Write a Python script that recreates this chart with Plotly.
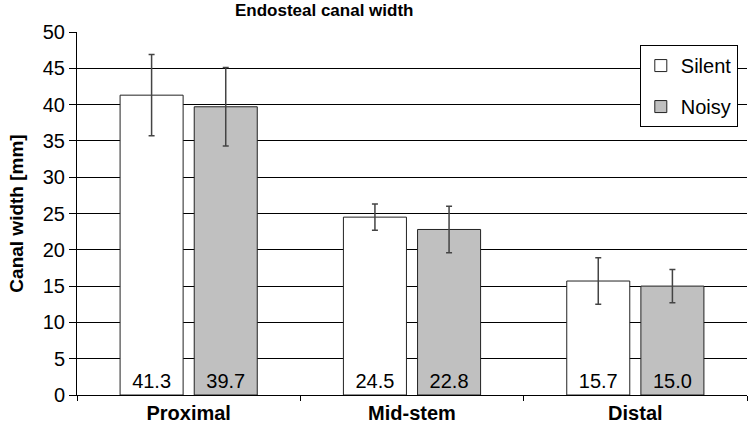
import plotly.graph_objects as go

categories = ["Proximal", "Mid-stem", "Distal"]
silent = [41.3, 24.5, 15.7]
noisy = [39.7, 22.8, 15.0]
silent_err = [5.6, 1.8, 3.2]
noisy_err = [5.4, 3.2, 2.3]
y_ticks = [0, 5, 10, 15, 20, 25, 30, 35, 40, 45, 50]

font_family = "Liberation Sans, Arial, sans-serif"

def bar_trace(name, values, errors, fill):
    return go.Bar(
        name=name,
        legendgroup=name,
        x=categories,
        y=values,
        marker=dict(color=fill, line=dict(color="#222222", width=1)),
        error_y=dict(type="data", array=errors, visible=True,
                     color="#444444", thickness=1.5, width=3),
        text=[f"{v:.1f}" for v in values],
        textposition="inside",
        insidetextanchor="start",
        textangle=0,
        textfont=dict(size=20, color="black", family=font_family),
    )

fig = go.Figure([
    bar_trace("Silent", silent, silent_err, "white"),
    bar_trace("Noisy", noisy, noisy_err, "#c0c0c0"),
])

fig.update_layout(
    width=754, height=434,
    margin=dict(l=77, r=7, t=32, b=39),
    paper_bgcolor="white", plot_bgcolor="white",
    barmode="group", bargap=0.336, bargroupgap=0.15,
    uniformtext=dict(mode=False),
    font=dict(family=font_family, size=20, color="black"),
    title=dict(text="<b>Endosteal canal width</b>", x=0.43, xanchor="center",
               y=0.99, yanchor="top", font=dict(size=17)),
    legend=dict(x=0.84, y=0.964, xanchor="left", yanchor="top",
                bgcolor="white", bordercolor="black", borderwidth=1,
                font=dict(size=20), traceorder="grouped", tracegroupgap=12,
                itemwidth=30),
    showlegend=True,
)

fig.update_xaxes(
    tickvals=categories,
    ticktext=[f"<b>{c}</b>" for c in categories],
    tickson="boundaries", ticks="outside", ticklen=5, tickcolor="black",
    showline=True, linecolor="black", linewidth=1,
    tickfont=dict(size=20),
)
fig.update_yaxes(
    range=[0, 50], tickvals=y_ticks,
    ticks="outside", ticklen=7, tickcolor="black",
    showline=True, linecolor="black", linewidth=1,
    showgrid=True, gridcolor="black", gridwidth=1,
    zeroline=False,
    title=dict(text="<b>Canal width [mm]</b>", font=dict(size=19), standoff=14),
    tickfont=dict(size=20),
)

fig.write_html("out.html")
